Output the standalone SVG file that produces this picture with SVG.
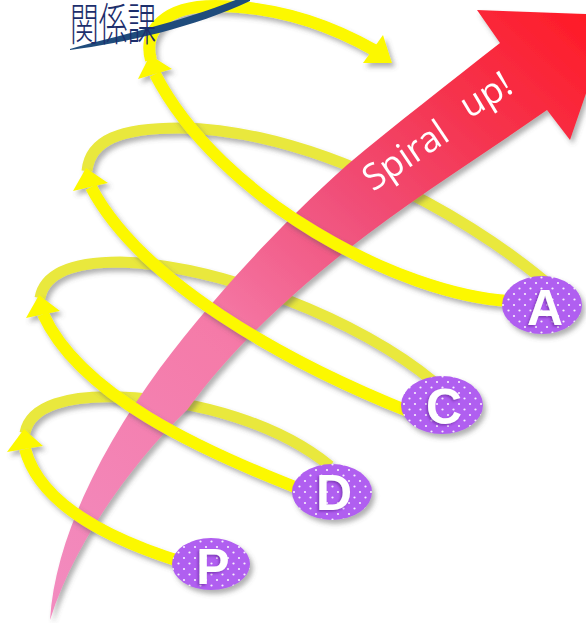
<svg xmlns="http://www.w3.org/2000/svg" width="586" height="623" viewBox="0 0 586 623">
<defs>
<linearGradient id="pinkGrad" gradientUnits="userSpaceOnUse" x1="50" y1="620" x2="600" y2="20">
<stop offset="0" stop-color="#f28cc0"/>
<stop offset="0.4" stop-color="#f57aa8"/>
<stop offset="0.62" stop-color="#f0507a"/>
<stop offset="0.8" stop-color="#f5344f"/>
<stop offset="1" stop-color="#ff1a25"/>
</linearGradient>
<pattern id="dots" patternUnits="userSpaceOnUse" width="11" height="11">
<rect width="11" height="11" fill="#b05ef0"/>
<circle cx="2.5" cy="2.5" r="1.1" fill="#ffffff" opacity="0.9"/>
<circle cx="8" cy="8" r="1.1" fill="#ffffff" opacity="0.9"/>
</pattern>
<filter id="sh" filterUnits="userSpaceOnUse" x="-20" y="-20" width="640" height="670">
<feDropShadow dx="3" dy="4" stdDeviation="2.5" flood-color="#555555" flood-opacity="0.45"/>
</filter>
<filter id="lsh" x="-30%" y="-30%" width="160%" height="160%">
<feDropShadow dx="-1.5" dy="1.5" stdDeviation="1" flood-color="#6a2aa0" flood-opacity="0.7"/>
</filter>
<style>
.back{fill:none;stroke:#e9e83e;stroke-width:11;stroke-linecap:butt}
.front{fill:none;stroke:#fcf800;stroke-width:12;stroke-linecap:butt}
.head{fill:#fcf800}
.badge{fill:url(#dots)}
.letter{font-family:"Liberation Sans",Arial,sans-serif;font-weight:bold;font-size:50px;fill:#ffffff;text-anchor:middle}
.spiral{font-family:"Open Sans","DejaVu Sans",sans-serif;font-size:36px;fill:#ffffff}
</style>
</defs>
<rect width="586" height="623" fill="#ffffff"/>

<g id="connectors-back" filter="url(#sh)">
<path class="back" d="M25,433 C30,405 70,395 120,397 C200,400 280,425 330,466"/>
<path class="back" d="M40,298 C45,270 80,262 120,262 C220,265 360,320 434,382"/>
<path class="back" d="M87,171 C90,140 120,128 180,128 C310,130 460,210 547,283"/>
</g>

<g id="spiral-arrow" filter="url(#sh)">
<path fill="url(#pinkGrad)" d="M50,620 C55,540 100,450 160,368 C215,295 280,225 347,165 C395,125 450,82 500,43 L477,10 L613,15 L570,140 L547,110 C480,157 410,200 347,250 C290,295 230,350 187,410 C135,460 75,540 50,620 Z"/>
<text class="spiral" transform="translate(373,192) rotate(-34)">Spiral</text>
<text class="spiral" transform="translate(469,119) rotate(-31)">up!</text>
</g>

<g id="connectors-front" filter="url(#sh)">
<path class="front" d="M185,563 C110,540 40,505 25,449"/>
<polygon class="head" points="7,452 43,446 24,429"/>
<path class="front" d="M300,489 C200,450 80,395 43,314"/>
<polygon class="head" points="26,318 60,311 39,295"/>
<path class="front" d="M410,412 C280,360 140,280 91,187"/>
<polygon class="head" points="73,191 108,183 86,168"/>
<path class="front" d="M510,301 C400,295 220,200 155,74"/>
<polygon class="head" points="138,79 172,69 150,55"/>
<path class="front" d="M151,60 C143,30 165,6 215,6 C275,6 330,25 374,50"/>
<polygon class="head" points="383,35 392,63 363,63"/>
</g>

<g id="title">
<path fill="#1f4c7c" d="M70,49 C120,35 190,20 250,-6 L250,1 C195,27 125,43 70,50 Z"/>
<text transform="translate(70,41) scale(0.64,1)" font-family="'Noto Sans CJK JP','Noto Sans CJK SC',sans-serif" font-size="45" font-weight="300" fill="#1c2e6c">関係課</text>
</g>

<g id="node-P" filter="url(#sh)">
<ellipse class="badge" cx="211" cy="564" rx="39" ry="26"/>
<text class="letter" x="213" y="584" filter="url(#lsh)">P</text>
</g>
<g id="node-D" filter="url(#sh)">
<ellipse class="badge" cx="332" cy="492" rx="40" ry="28"/>
<text class="letter" x="334" y="510" filter="url(#lsh)">D</text>
</g>
<g id="node-C" filter="url(#sh)">
<ellipse class="badge" cx="442" cy="405" rx="41" ry="29"/>
<text class="letter" x="444" y="424" filter="url(#lsh)">C</text>
</g>
<g id="node-A" filter="url(#sh)">
<ellipse class="badge" cx="542" cy="305" rx="40" ry="29"/>
<text class="letter" x="545" y="325" filter="url(#lsh)">A</text>
</g>
</svg>
